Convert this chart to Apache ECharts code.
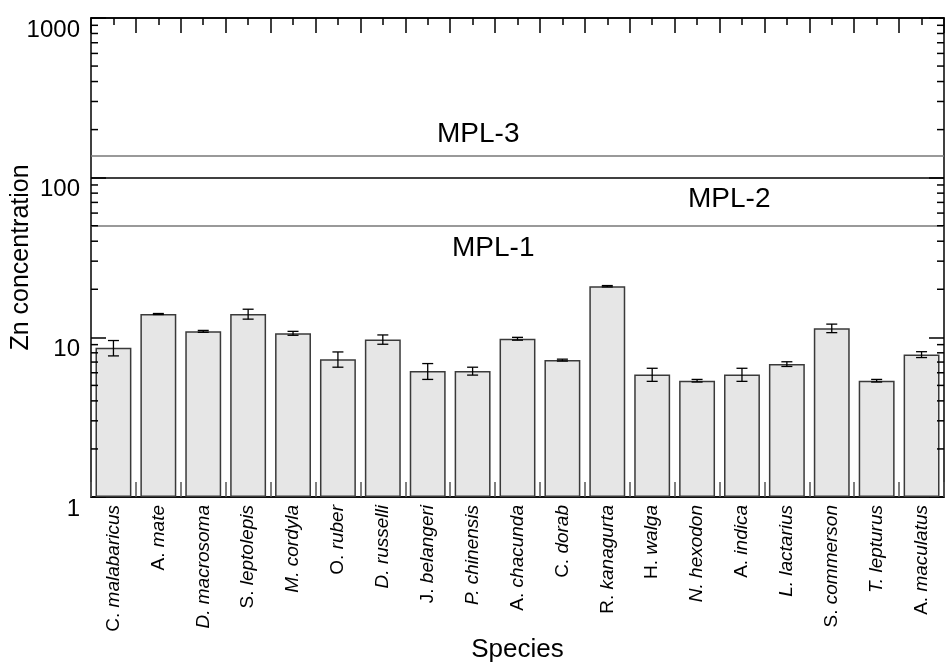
<!DOCTYPE html>
<html>
<head>
<meta charset="utf-8">
<title>Zn concentration</title>
<script src="https://cdn.jsdelivr.net/npm/echarts@6/dist/echarts.min.js"></script>
<style>
  html, body { margin: 0; padding: 0; background: #fff; }
  #chart { width: 947px; height: 665px; }
</style>
</head>
<body>
<div id="chart"></div>
<script>
// species on the x axis
var categories = ['C. malabaricus', 'A. mate', 'D. macrosoma', 'S. leptolepis', 'M. cordyla',
  'O. ruber', 'D. russelli', 'J. belangeri', 'P. chinensis', 'A. chacunda', 'C. dorab',
  'R. kanagurta', 'H. walga', 'N. hexodon', 'A. indica', 'L. lactarius', 'S. commerson',
  'T. lepturus', 'A. maculatus'];
// genus letter printed in italic too?
var genusItalic = [false, false, true, false, true, false, true, false, true, false, false,
  false, false, true, false, true, false, true, false];
// mean Zn and error
var meanZn = [8.6, 14.0, 10.9, 14.0, 10.6, 7.3, 9.7, 6.15, 6.15, 9.8, 7.2, 20.9, 5.85, 5.35, 5.85, 6.8, 11.4, 5.35, 7.8];
var errZn = [0.95, 0.1, 0.15, 1.0, 0.3, 0.8, 0.65, 0.7, 0.35, 0.2, 0.1, 0.2, 0.55, 0.1, 0.55, 0.23, 0.7, 0.1, 0.33];
// permissible limits
var mplNames = ['MPL-1', 'MPL-2', 'MPL-3'];
var mplValues = [50, 100, 138];
// log axis
var yMin = 1, yMax = 1000;
var minorTicks = [2, 3, 4, 5, 6, 7, 8, 9, 20, 30, 40, 50, 60, 70, 80, 90, 200, 300, 400, 500, 600, 700, 800, 900];

var FONT = '"Liberation Sans", Arial, sans-serif';

var errData = categories.map(function (c, i) {
  return [i, meanZn[i] - errZn[i], meanZn[i] + errZn[i]];
});
var minorData = minorTicks.map(function (v) { return [0, v]; });

// label placement for the three limit lines
var mplLabel = [
  { position: 'insideStartBottom', distance: [361, 9] },
  { position: 'insideStartBottom', distance: [597, 8] },
  { position: 'insideStartTop', distance: [346, 7] }
];
var mplColor = ['#777', '#000', '#777'];

function xLabel(v, i) {
  var parts = v.split(' ');
  if (genusItalic[i]) return '{i|' + v + '}';
  return '{n|' + parts[0] + '} {i|' + parts.slice(1).join(' ') + '}';
}

function catAxis(pos, centered, len, color) {
  return {
    type: 'category',
    position: pos,
    data: categories,
    boundaryGap: true,
    axisLine: { show: true, lineStyle: { color: '#000', width: 1.5 } },
    axisTick: { show: true, inside: true, interval: 0, alignWithLabel: centered, length: len,
      lineStyle: { color: color, width: 1.5 } },
    axisLabel: { show: false },
    splitLine: { show: false }
  };
}

var bottomAxis = catAxis('bottom', true, 7, '#000');
bottomAxis.axisLabel = {
  show: true, interval: 0, rotate: 90, margin: 8,
  fontFamily: FONT, fontSize: 19, color: '#000',
  formatter: xLabel,
  rich: {
    n: { fontFamily: FONT, fontSize: 19, fontStyle: 'normal', color: '#000' },
    i: { fontFamily: FONT, fontSize: 19, fontStyle: 'italic', color: '#000' }
  }
};
bottomAxis.name = 'Species';
bottomAxis.nameLocation = 'middle';
bottomAxis.nameGap = 140;
bottomAxis.nameMoveOverlap = false;
bottomAxis.nameTextStyle = { fontFamily: FONT, fontSize: 26, color: '#000' };

function logAxis(pos, showLabel) {
  return {
    type: 'log',
    logBase: 10,
    position: pos,
    min: yMin,
    max: yMax,
    splitNumber: 3,
    axisLine: { show: true, lineStyle: { color: '#000', width: 1.5 } },
    axisTick: { show: true, inside: true, length: 15, lineStyle: { color: '#000', width: 1.5 } },
    axisLabel: showLabel ? {
      show: true, margin: 11, verticalAlign: 'top',
      fontFamily: FONT, fontSize: 24, color: '#000',
      formatter: function (v) { return String(Math.round(v)); }
    } : { show: false },
    splitLine: { show: false }
  };
}

var leftAxis = logAxis('left', true);
leftAxis.name = 'Zn concentration';
leftAxis.nameLocation = 'middle';
leftAxis.nameGap = 57;
leftAxis.nameMoveOverlap = false;
leftAxis.nameTextStyle = { fontFamily: FONT, fontSize: 25, color: '#000' };

var option = {
  animation: false,
  backgroundColor: '#fff',
  grid: { left: 91, right: 3, top: 18, bottom: 168, outerBoundsMode: 'none', containLabel: false },
  xAxis: [
    bottomAxis,
    catAxis('bottom', false, 15, '#555'),
    catAxis('top', true, 7, '#000'),
    catAxis('top', false, 15, '#000')
  ],
  yAxis: [leftAxis, logAxis('right', false)],
  series: [
    {
      type: 'bar',
      data: meanZn,
      barCategoryGap: '20%',
      itemStyle: { color: '#e6e6e6', borderColor: '#3a3a3a', borderWidth: 1.5 },
      markLine: {
        silent: true,
        symbol: 'none',
        data: mplValues.map(function (v, i) {
          return {
            yAxis: v,
            name: mplNames[i],
            lineStyle: { color: mplColor[i], width: 1.5, type: 'solid' },
            label: {
              show: true, formatter: mplNames[i],
              position: mplLabel[i].position, distance: mplLabel[i].distance,
              fontFamily: FONT, fontSize: 28, color: '#000'
            }
          };
        })
      }
    },
    {
      type: 'custom',
      data: errData,
      z: 5,
      renderItem: function (params, api) {
        var x = api.value(0);
        var lo = api.coord([x, api.value(1)]);
        var hi = api.coord([x, api.value(2)]);
        var w = 5.5;
        var st = { stroke: '#000', lineWidth: 1.3 };
        return {
          type: 'group',
          children: [
            { type: 'line', shape: { x1: lo[0], y1: lo[1], x2: hi[0], y2: hi[1] }, style: st },
            { type: 'line', shape: { x1: lo[0] - w, y1: lo[1], x2: lo[0] + w, y2: lo[1] }, style: st },
            { type: 'line', shape: { x1: hi[0] - w, y1: hi[1], x2: hi[0] + w, y2: hi[1] }, style: st }
          ]
        };
      }
    },
    {
      // minor ticks of the log axis, left and right
      type: 'custom',
      data: minorData,
      z: 6,
      silent: true,
      renderItem: function (params, api) {
        var y = api.coord([0, api.value(1)])[1];
        var cs = params.coordSys;
        var st = { stroke: '#000', lineWidth: 1.5 };
        return {
          type: 'group',
          children: [
            { type: 'line', shape: { x1: cs.x, y1: y, x2: cs.x + 7, y2: y }, style: st },
            { type: 'line', shape: { x1: cs.x + cs.width - 7, y1: y, x2: cs.x + cs.width, y2: y }, style: st }
          ]
        };
      }
    }
  ]
};

var myChart = echarts.init(document.getElementById('chart'));
myChart.setOption(option);
</script>
</body>
</html>
